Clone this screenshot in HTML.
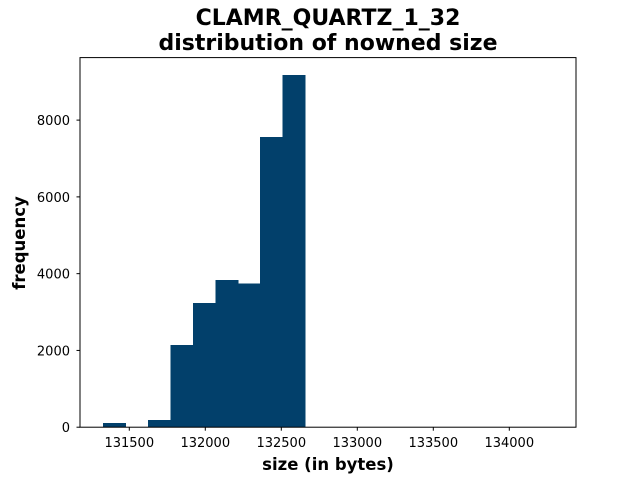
<!DOCTYPE html>
<html><head><meta charset="utf-8"><style>
body{margin:0;background:#fff}
svg{font-family:"DejaVu Sans","Liberation Sans",sans-serif}
</style></head><body>
<svg id="chart" width="640" height="480" xmlns="http://www.w3.org/2000/svg">
<rect width="640" height="480" fill="#fff"/>
<text x="328" y="25" text-anchor="middle" font-size="22" font-weight="bold">CLAMR_QUARTZ_1_32</text>
<text x="328" y="50" text-anchor="middle" font-size="22" font-weight="bold">distribution of nowned size</text>
<g id="bars" shape-rendering="crispEdges"></g>
<g id="xticks"></g>
<g id="yticks"></g>
<rect x="80" y="57.6" width="496" height="369.6" fill="none" stroke="#000" stroke-width="1"/>
<text x="328" y="470" text-anchor="middle" font-size="16.5" font-weight="bold">size (in bytes)</text>
<text transform="translate(25,243) rotate(-90)" text-anchor="middle" font-size="16.5" font-weight="bold">frequency</text>
</svg>
<script>
const binStart = 131327;
const binWidth = 147.7;
const counts = [110, 0, 190, 2140, 3230, 3830, 3750, 7560, 9170, 0, 0, 0, 0, 0, 0, 0, 0, 0, 0, 1];
const xTickValues = [131500, 132000, 132500, 133000, 133500, 134000];
const yTickValues = [0, 2000, 4000, 6000, 8000];

const X0 = 80, X1 = 576, Y0 = 427.2, Y1 = 57.6;
const xMin = 131175.7, xMax = 134438.8;
const yMax = 9628.5;
const xs = v => X0 + (v - xMin) / (xMax - xMin) * (X1 - X0);
const ys = v => Y0 - v / yMax * (Y0 - Y1);
const NS = "http://www.w3.org/2000/svg";

const bars = document.getElementById('bars');
counts.forEach((c, i) => {
  if (c <= 0) return;
  const r = document.createElementNS(NS, 'rect');
  const a = xs(binStart + i * binWidth), b = xs(binStart + (i + 1) * binWidth);
  r.setAttribute('x', a); r.setAttribute('width', b - a + 0.6);
  r.setAttribute('y', ys(c)); r.setAttribute('height', Y0 - ys(c));
  r.setAttribute('fill', '#02406b');
  
  
  bars.appendChild(r);
});

const xt = document.getElementById('xticks');
xTickValues.forEach(v => {
  const x = xs(v);
  const l = document.createElementNS(NS, 'line');
  l.setAttribute('x1', x); l.setAttribute('x2', x); l.setAttribute('y1', Y0); l.setAttribute('y2', Y0 + 3.5);
  l.setAttribute('stroke', '#000');
  
  
  xt.appendChild(l);
  const t = document.createElementNS(NS, 'text');
  t.setAttribute('x', x); t.setAttribute('y', Y0 + 20); t.setAttribute('text-anchor', 'middle'); t.setAttribute('font-size', '13');
  t.textContent = v;
  
  
  xt.appendChild(t);
});

const yt = document.getElementById('yticks');
yTickValues.forEach(v => {
  const y = ys(v);
  const l = document.createElementNS(NS, 'line');
  l.setAttribute('x1', X0 - 3.5); l.setAttribute('x2', X0); l.setAttribute('y1', y); l.setAttribute('y2', y);
  l.setAttribute('stroke', '#000');
  
  
  yt.appendChild(l);
  const t = document.createElementNS(NS, 'text');
  t.setAttribute('x', X0 - 10); t.setAttribute('y', y + 5); t.setAttribute('text-anchor', 'end'); t.setAttribute('font-size', '13');
  t.textContent = v;
  
  
  yt.appendChild(t);
});
</script>
</body></html>
